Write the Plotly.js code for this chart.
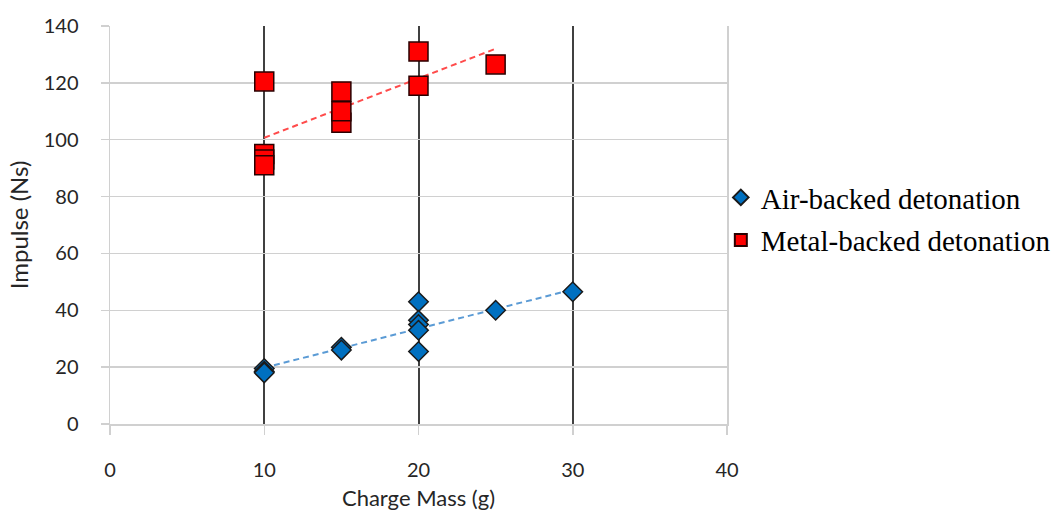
<!DOCTYPE html>
<html>
<head>
<meta charset="utf-8">
<script src="https://cdn.plot.ly/plotly-3.0.1.min.js"></script>
<style>html,body{margin:0;padding:0;background:#fff;}#chart{width:1052px;height:511px;}</style>
</head>
<body>
<div id="chart"></div>
<script>
// Air-backed detonation data (charge mass g, impulse Ns)
var airX = [10, 10, 10, 15, 15, 20, 20, 20, 20, 20, 25, 30];
var airY = [19.5, 18.5, 18, 27, 26, 43, 36.5, 35, 33, 25.5, 40, 46.5];
// Metal-backed detonation data
var metalX = [10, 10, 10, 10, 15, 15, 15, 20, 20, 25];
var metalY = [120.5, 95, 93, 91, 106, 110, 117, 131, 119, 126.5];
// Linear trend lines
var airTrendX = [10, 30];
var airTrendY = [19.8, 47.3];
var metalTrendX = [10, 25];
var metalTrendY = [100.7, 132];
// Axes
var xTicks = [0, 10, 20, 30, 40];
var yTicks = [0, 20, 40, 60, 80, 100, 120, 140];

var tickFont = {family: 'Lato, "Open Sans", sans-serif', size: 20, color: '#262626'};
var titleFont = {family: 'Lato, "Open Sans", sans-serif', size: 22, color: '#262626'};
var yTitleFont = {family: 'Lato, "Open Sans", sans-serif', size: 24, color: '#262626'};

var traces = [
  {x: airTrendX, y: airTrendY, mode: 'lines', showlegend: false, hoverinfo: 'skip',
   line: {color: '#5B9BD5', width: 2, dash: '6px,4px'}},
  {x: metalTrendX, y: metalTrendY, mode: 'lines', showlegend: false, hoverinfo: 'skip',
   line: {color: '#FF4B4B', width: 2, dash: '6px,4px'}},
  {x: airX, y: airY, mode: 'markers', name: 'Air-backed detonation', legendgroup: 'a',
   marker: {symbol: 'diamond', size: 15, color: '#0070C0', line: {color: '#1a1a1a', width: 1.5}}},
  {x: metalX, y: metalY, mode: 'markers', name: 'Metal-backed detonation', legendgroup: 'b',
   marker: {symbol: 'square', size: 19, color: '#FF0000', line: {color: '#2a0000', width: 1.5}}}
];

var layout = {
  width: 1052, height: 511,
  margin: {l: 110, r: 325, t: 26, b: 87, pad: 0, autoexpand: false},
  paper_bgcolor: '#ffffff', plot_bgcolor: '#ffffff',
  showlegend: true,
  legend: {x: 0.99, xanchor: 'left', y: 0.515, yanchor: 'middle',
    font: {family: '"Liberation Serif", "Times New Roman", serif', size: 29, color: '#000'},
    itemsizing: 'constant', traceorder: 'grouped', tracegroupgap: 2, bgcolor: 'rgba(0,0,0,0)'},
  xaxis: {range: [0, 40], tickvals: xTicks, ticktext: xTicks.map(String), showgrid: true,
    gridcolor: '#404040', gridwidth: 2, zeroline: false, showline: true, linecolor: '#d0d0d0', linewidth: 1.5,
    ticks: 'outside', ticklen: 9, tickcolor: '#d0d0d0', tickwidth: 1.5, tickfont: tickFont,
    ticklabelstandoff: 18, automargin: false,
    title: {text: 'Charge Mass (g)', font: titleFont, standoff: 12}},
  yaxis: {range: [0, 140], tickvals: yTicks, ticktext: yTicks.map(String), showgrid: true,
    gridcolor: '#d0d0d0', gridwidth: 1.5, zeroline: false, showline: true, linecolor: '#d0d0d0', linewidth: 1.5,
    mirror: true, automargin: false,
    ticks: 'outside', ticklen: 8, tickcolor: '#d0d0d0', tickwidth: 1.5, tickfont: tickFont,
    ticklabelstandoff: 18,
    title: {text: 'Impulse (Ns)', font: yTitleFont, standoff: 8}}
};

Plotly.newPlot('chart', traces, layout, {displayModeBar: false, staticPlot: true});
</script>
</body>
</html>
